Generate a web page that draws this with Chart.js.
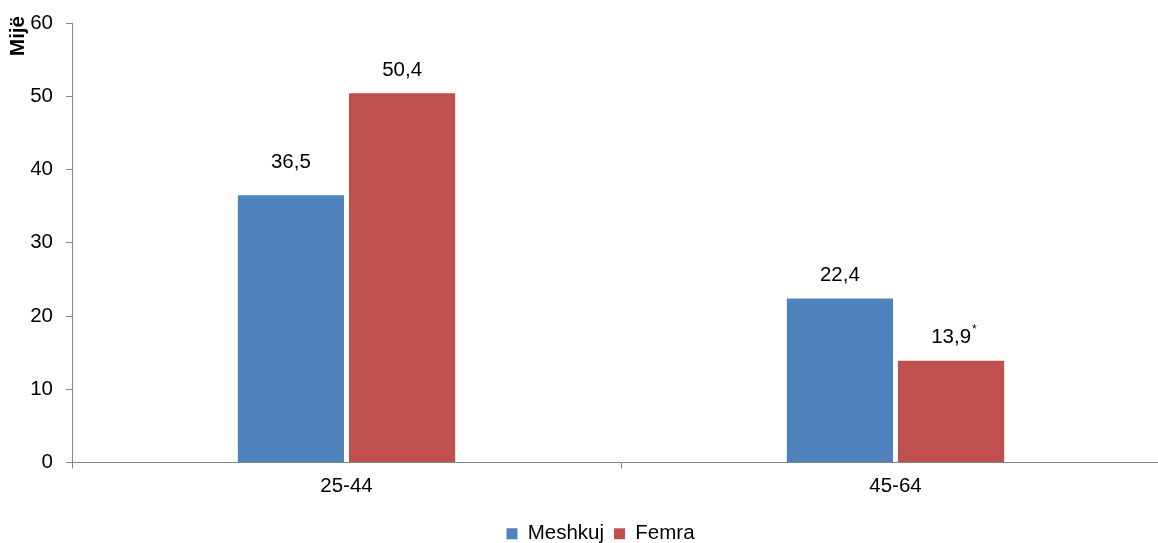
<!DOCTYPE html>
<html>
<head>
<meta charset="utf-8">
<script src="https://cdn.jsdelivr.net/npm/chart.js@4"></script>
<style>
  html, body { margin: 0; padding: 0; background: #fff; overflow: hidden; }
  #wrap { width: 1180px; height: 554px; }
</style>
</head>
<body>
<div id="wrap"><canvas id="chart"></canvas></div>
<script>
const categories = ["25-44", "45-64"];
const seriesNames = ["Meshkuj", "Femra"];
const meshkuj = [36.5, 22.4];
const femra = [50.4, 13.9];
const femraNotes = ["", "*"];
const yTicks = [0, 10, 20, 30, 40, 50, 60];
const yTitle = "Mijë";

const FONT = "'Liberation Sans', Arial, sans-serif";
const SIZE = 20.5;
const AXIS = "#868686";

// value labels above the bars (comma decimals, optional superscript note)
const valueLabels = {
  id: "valueLabels",
  afterDatasetsDraw(chart) {
    const ctx = chart.ctx;
    ctx.save();
    ctx.fillStyle = "#000";
    ctx.textAlign = "center";
    ctx.textBaseline = "middle";
    chart.data.datasets.forEach((ds, i) => {
      const meta = chart.getDatasetMeta(i);
      meta.data.forEach((bar, j) => {
        const text = ds.data[j].toFixed(1).replace(".", ",");
        const lift = (i === 0 && j === 0) ? 33 : 23;
        const y = bar.y - lift;
        ctx.font = SIZE + "px " + FONT;
        ctx.fillText(text, bar.x, y);
        const note = ds.notes ? ds.notes[j] : "";
        if (note) {
          const w = ctx.measureText(text).width;
          ctx.font = "12px " + FONT;
          ctx.textAlign = "left";
          ctx.fillText(note, bar.x + w / 2 + 1, y - 8);
          ctx.textAlign = "center";
        }
      });
    });
    ctx.restore();
  }
};

// rotated bold axis title at the top-left
const axisTitle = {
  id: "axisTitle",
  afterDraw(chart) {
    const ctx = chart.ctx;
    ctx.save();
    ctx.translate(18, 36);
    ctx.rotate(-Math.PI / 2);
    ctx.font = "bold " + SIZE + "px " + FONT;
    ctx.fillStyle = "#000";
    ctx.textAlign = "center";
    ctx.textBaseline = "middle";
    ctx.fillText(yTitle, 0, 0);
    ctx.restore();
  }
};

new Chart(document.getElementById("chart"), {
  type: "bar",
  data: {
    labels: categories,
    datasets: [
      { label: seriesNames[0], data: meshkuj, backgroundColor: "#4F81BD" },
      { label: seriesNames[1], data: femra, notes: femraNotes, backgroundColor: "#C0504D" }
    ]
  },
  options: {
    responsive: true,
    maintainAspectRatio: false,
    animation: false,
    datasets: { bar: { categoryPercentage: 0.405, barPercentage: 0.955 } },
    layout: { padding: { left: 31, right: 10, top: 23, bottom: 0 } },
    plugins: {
      legend: {
        position: "bottom",
        labels: {
          boxWidth: 11,
          boxHeight: 11,
          color: "#000",
          font: { family: FONT, size: SIZE },
          padding: 10
        }
      },
      tooltip: { enabled: false }
    },
    scales: {
      x: {
        grid: { drawOnChartArea: false, drawTicks: true, tickLength: 6, color: AXIS },
        border: { color: AXIS },
        ticks: { color: "#000", font: { family: FONT, size: SIZE }, padding: 6 },
        afterFit: s => { s.height = 51; }
      },
      y: {
        min: 0,
        max: 60,
        afterBuildTicks: s => { s.ticks = yTicks.map(v => ({ value: v })); },
        grid: { drawOnChartArea: false, drawTicks: true, tickLength: 6, color: AXIS },
        border: { color: AXIS },
        ticks: { color: "#000", font: { family: FONT, size: SIZE }, padding: 13 },
        afterFit: s => { s.width = 41; s.paddingTop = 0; s.paddingBottom = 0; }
      }
    }
  },
  plugins: [valueLabels, axisTitle]
});
</script>
</body>
</html>
